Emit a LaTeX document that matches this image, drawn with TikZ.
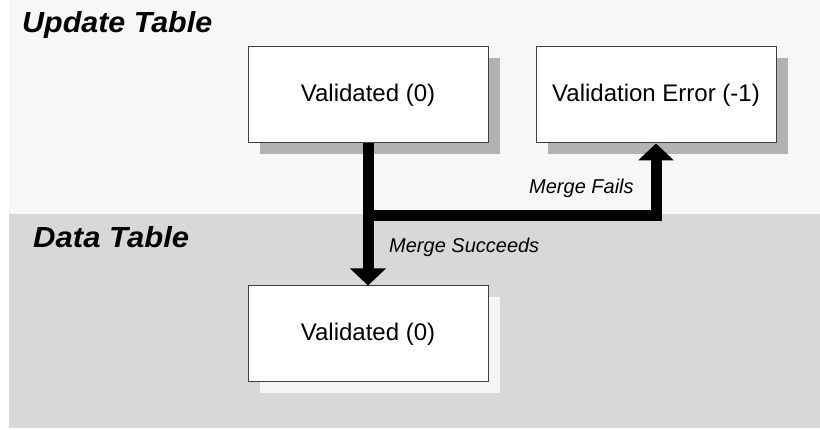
\documentclass[tikz,border=0pt]{standalone}
\usepackage{fontspec}
\setmainfont{Liberation Sans}
\usetikzlibrary{arrows.meta,shadows}
\definecolor{toppanel}{HTML}{F7F7F7}
\definecolor{botpanel}{HTML}{D8D8D8}
\definecolor{shadowgray}{HTML}{B2B2B2}
\definecolor{lightshadow}{HTML}{F5F5F5}
\definecolor{boxline}{HTML}{404040}
\begin{document}
\begin{tikzpicture}[x=1pt,y=-1pt,
  statebox/.style={draw=boxline,line width=1pt,fill=white,minimum width=240pt,minimum height=96pt,inner sep=0pt,
    font=\fontsize{24}{28}\selectfont},
  darkshadow/.style={drop shadow={shadow xshift=12pt,shadow yshift=-11pt,fill=shadowgray,opacity=1}},
  paleshadow/.style={drop shadow={shadow xshift=12pt,shadow yshift=-11pt,fill=lightshadow,opacity=1}},
  flow/.style={line width=11pt,-{Triangle[length=17pt,width=35pt]},line join=miter},
  flowlabel/.style={font=\fontsize{20}{24}\selectfont\itshape,inner sep=0pt,anchor=base west},
  paneltitle/.style={font=\fontsize{29}{34}\selectfont\bfseries\itshape,inner sep=0pt,anchor=base west}]
\useasboundingbox (0,0) rectangle (820,430);
\fill[toppanel] (9,0) rectangle (820,214);
\fill[botpanel] (9,214) rectangle (820,428);
\node[paneltitle] (ut) at (22,33) {\resizebox{190pt}{\height}{Update Table}};
\node[paneltitle] (dt) at (33,248) {\resizebox{156pt}{\height}{Data Table}};
\node[statebox,darkshadow] (v1) at (368,95) {Validated (0)};
\node[statebox,darkshadow] (v2) at (656,95) {Validation Error (-1)};
\node[statebox,paleshadow] (v3) at (368,334) {Validated (0)};
\path (v1.south) ++(0,72) coordinate (j);
\draw[flow] (v1.south) -- (v3.north);
\draw[flow] (j) -| (v2.south);
\node[flowlabel] (mf) at (529,194) {Merge Fails};
\node[flowlabel] (ms) at (389,253) {Merge Succeeds};
\end{tikzpicture}
\end{document}
